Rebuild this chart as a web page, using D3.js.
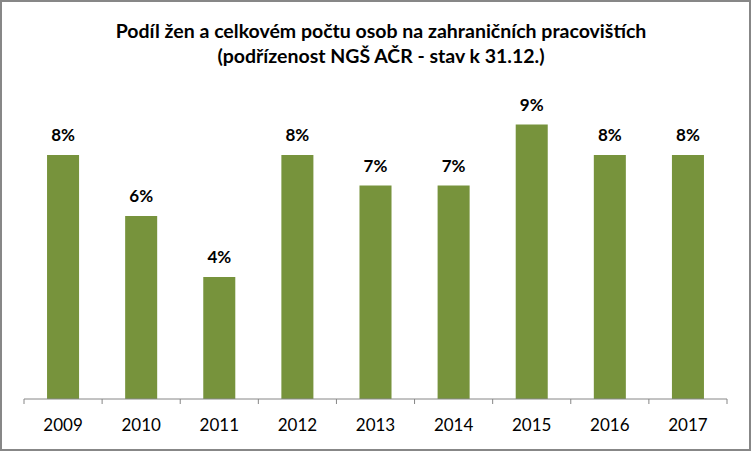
<!DOCTYPE html>
<html><head><meta charset="utf-8">
<script src="https://cdn.jsdelivr.net/npm/d3@7"></script>
<style>body{margin:0;background:#fff}svg{display:block}</style>
</head><body>
<script>
const categories = ["2009","2010","2011","2012","2013","2014","2015","2016","2017"];
const values = [8,6,4,8,7,7,9,8,8];
const titleLines = ["Podíl žen a celkovém počtu osob na zahraničních pracovištích","(podřízenost NGŠ AČR - stav k 31.12.)"];

const W=752,H=452;
const svg=d3.select("body").append("svg").attr("width",W).attr("height",H);
svg.append("rect").attr("x",1).attr("y",1).attr("width",W-3).attr("height",H-3)
  .attr("fill","#fff").attr("stroke","#878787").attr("stroke-width",2);

const font="Lato, 'Open Sans', sans-serif";
const x=d3.scaleBand().domain(categories).range([24,727]).paddingInner(0.59).paddingOuter(0.295);
const y=d3.scaleLinear().domain([0,10]).range([399,94]);

svg.selectAll(".t").data(titleLines).join("text")
  .attr("x",381).attr("y",(d,i)=>38+i*25).attr("text-anchor","middle")
  .attr("font-family",font).attr("font-weight","bold").attr("font-size",19.5).attr("fill","#000").text(d=>d);

svg.selectAll(".bar").data(values).join("rect")
  .attr("x",(d,i)=>x(categories[i])).attr("width",x.bandwidth())
  .attr("y",d=>y(d)).attr("height",d=>y(0)-y(d)).attr("fill","#77933C");

svg.selectAll(".lbl").data(values).join("text")
  .attr("x",(d,i)=>x(categories[i])+x.bandwidth()/2).attr("y",d=>y(d)-14)
  .attr("text-anchor","middle").attr("font-family",font).attr("font-weight","bold")
  .attr("font-size",17).text(d=>d+"%");

// axis
const xb=d3.scaleBand().domain(categories).range([24,727]);
const axis=svg.append("g").attr("transform","translate(0,399)");
axis.append("line").attr("x1",24).attr("x2",727).attr("stroke","#868686").attr("stroke-width",1);
const ticks=categories.map(c=>xb(c)).concat([xb.range()[1]]);
axis.selectAll(".tk").data(ticks).join("line")
  .attr("x1",d=>d).attr("x2",d=>d).attr("y1",0).attr("y2",5).attr("stroke","#868686");
axis.selectAll(".tl").data(categories).join("text")
  .attr("x",d=>xb(d)+xb.bandwidth()/2).attr("y",32).attr("text-anchor","middle")
  .attr("font-family",font).attr("font-size",17).attr("fill","#000").text(d=>d);
</script>
</body></html>
